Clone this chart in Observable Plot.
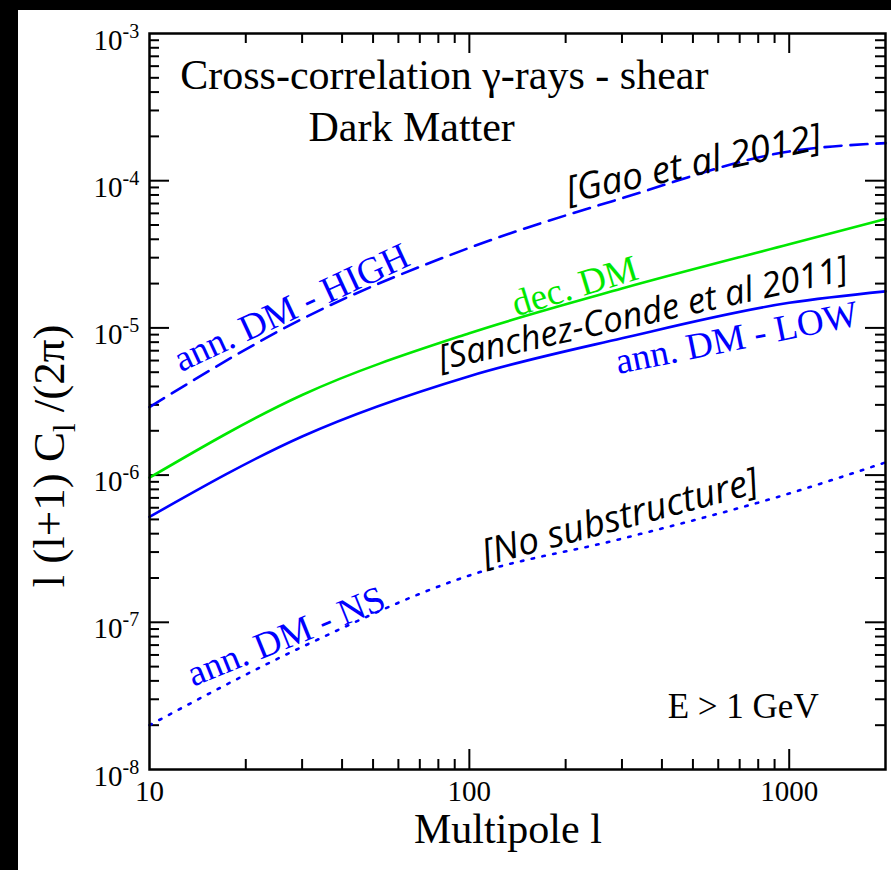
<!DOCTYPE html>
<html><head><meta charset="utf-8">
<script src="https://cdn.jsdelivr.net/npm/d3@7"></script>
<script src="https://cdn.jsdelivr.net/npm/@observablehq/plot@0.6"></script>
<style>
html,body{margin:0;padding:0;background:#000;}
#wrap{position:relative;width:891px;height:870px;overflow:hidden;background:#000;}
#paper{position:absolute;left:18px;top:10px;right:0;bottom:0;background:#fff;}
#chart{position:absolute;left:0;top:0;}
</style></head><body>
<div id="wrap"><div id="paper"></div><div id="chart"></div></div>
<script>
// ---- data ----
const multipole = [10, 30, 100, 300, 1000, 2000];
const annHigh   = [2.9e-6, 1.15e-5, 3.5e-5, 7.6e-5, 1.58e-4, 1.8e-4];   // dashed  [Gao et al 2012]
const decDM     = [9.6e-7, 3.5e-6, 9.2e-6, 1.85e-5, 3.7e-5, 5.5e-5];    // green
const annLow    = [5.2e-7, 1.83e-6, 4.7e-6, 8.5e-6, 1.48e-5, 1.77e-5];  // solid blue
const annNS     = [2.0e-8, 6.8e-8, 2.08e-7, 3.7e-7, 7.5e-7, 1.22e-6];   // dotted
const xMajor = [10, 100, 1000];
const xMinor = [20,30,40,50,60,70,80,90,200,300,400,500,600,700,800,900];
const yExponents = [-3, -4, -5, -6, -7, -8];
const yMinorMantissa = [2,3,4,5,6,7,8,9];
const yMinorDecades = [-8,-7,-6,-5,-4];
const titleLines = ["Cross-correlation \u03b3-rays - shear", "Dark Matter"];
const yLabel = "l (l+1) C_l /(2\u03c0)";
const xLabel = "Multipole l";
const energyNote = "E > 1 GeV";
const curveLabels = ["ann. DM - HIGH", "dec. DM", "ann. DM - LOW", "ann. DM - NS"];
const refLabels = ["[Gao et al 2012]", "[Sanchez-Conde et al 2011]", "[No substructure]"];

// ---- layout ----
const W = 891, H = 870, ML = 149, MT = 33, MR = 6, MB = 101;
const FW = W - ML - MR, FH = H - MT - MB;
const SERIF = "'Liberation Serif','Times New Roman',Times,serif";
const SANS = "'Open Sans','Noto Sans',sans-serif";
const BLUE = "#0000ff", GREEN = "#00e800";
const yMinor = yMinorDecades.flatMap(e => yMinorMantissa.map(m => m * Math.pow(10, e)));
const yMajor = yExponents.map(e => Math.pow(10, e));
const BIG = 20, SMALL = 10;

const annots = [
  {t: curveLabels[0], x: 28.8, y: 1.16e-5, r: -25, c: BLUE, f: SERIF, s: 37, i: "normal"},
  {t: curveLabels[1], x: 219, y: 1.61e-5, r: -17, c: GREEN, f: SERIF, s: 37, i: "normal"},
  {t: curveLabels[2], x: 697, y: 7.13e-6, r: -11.5, c: BLUE, f: SERIF, s: 37, i: "normal"},
  {t: curveLabels[3], x: 27.6, y: 6.75e-8, r: -22, c: BLUE, f: SERIF, s: 37, i: "normal"},
  {t: refLabels[0], x: 511, y: 1.08e-4, r: -12, c: "#000", f: SANS, s: 37, i: "italic"},
  {t: refLabels[1], x: 355, y: 1.05e-5, r: -12.5, c: "#000", f: SANS, s: 35, i: "italic"},
  {t: refLabels[2], x: 302, y: 4.3e-7, r: -15, c: "#000", f: SANS, s: 37, i: "italic"}
];

const tickMarks = [];
for (const [vals, len] of [[xMajor.slice(1), BIG], [xMinor, SMALL]]) {
  tickMarks.push(Plot.tickX(vals, {x: d => d, insetTop: FH - len, stroke: "#000", strokeWidth: 2}));
  tickMarks.push(Plot.tickX(vals, {x: d => d, insetBottom: FH - len, stroke: "#000", strokeWidth: 2}));
}
for (const [vals, len] of [[yMajor.slice(1, -1), BIG], [yMinor, SMALL]]) {
  tickMarks.push(Plot.tickY(vals, {y: d => d, insetRight: FW - len, stroke: "#000", strokeWidth: 2}));
  tickMarks.push(Plot.tickY(vals, {y: d => d, insetLeft: FW - len, stroke: "#000", strokeWidth: 2}));
}

const chart = Plot.plot({
  width: W, height: H,
  marginLeft: ML, marginTop: MT, marginRight: MR, marginBottom: MB,
  style: {background: "transparent", fontFamily: SERIF, overflow: "visible"},
  x: {type: "log", domain: [10, 2000], axis: null},
  y: {type: "log", domain: [1e-8, 1e-3], axis: null},
  marks: [
    ...tickMarks,
    Plot.line(multipole, {x: multipole, y: annHigh, stroke: BLUE, strokeWidth: 2.6, strokeDasharray: "17,9", curve: "monotone-x"}),
    Plot.line(multipole, {x: multipole, y: decDM, stroke: GREEN, strokeWidth: 2.6, curve: "monotone-x"}),
    Plot.line(multipole, {x: multipole, y: annLow, stroke: BLUE, strokeWidth: 2.6, curve: "monotone-x"}),
    Plot.line(multipole, {x: multipole, y: annNS, stroke: BLUE, strokeWidth: 2.6, strokeDasharray: "2.5,8.5", curve: "monotone-x"}),
    Plot.frame({stroke: "#000", strokeWidth: 2.5}),
    // x tick labels
    Plot.text(xMajor, {x: d => d, frameAnchor: "bottom", dy: 31, lineAnchor: "bottom", text: d => String(d), fontSize: 29, fill: "#000"}),
    // y tick labels: 10 with superscript exponent
    Plot.text(yMajor, {y: d => d, frameAnchor: "left", dx: -27, dy: 16, lineAnchor: "bottom", textAnchor: "end", text: () => "10", fontSize: 29, fill: "#000"}),
    Plot.text(yExponents, {y: d => Math.pow(10, d), frameAnchor: "left", dx: -27, dy: 4, lineAnchor: "bottom", textAnchor: "start", text: d => String(d), fontSize: 20, fill: "#000"}),
    // axis titles
    Plot.text([xLabel], {x: 132, frameAnchor: "bottom", dy: 73, lineAnchor: "bottom", text: d => d, fontSize: 42, fill: "#000"}),
    Plot.text([yLabel], {x: 5.4, y: 1.35e-6, rotate: -90, lineAnchor: "bottom", text: d => d, fontSize: 45, fill: "#000"}),
    // title
    Plot.text([titleLines[0]], {x: 83.5, y: 4.23e-4, lineAnchor: "bottom", text: d => d, fontSize: 42, fill: "#000"}),
    Plot.text([titleLines[1]], {x: 66, y: 1.87e-4, lineAnchor: "bottom", text: d => d, fontSize: 42, fill: "#000"}),
    Plot.text([energyNote], {x: 718, y: 2.25e-8, lineAnchor: "bottom", text: d => d, fontSize: 35, fill: "#000"}),
    // curve and reference labels
    ...annots.map(a => Plot.text([a], {x: d => d.x, y: d => d.y, text: d => d.t, rotate: a.r, fill: a.c, fontFamily: a.f, fontSize: a.s, fontStyle: a.i, lineAnchor: "bottom"}))
  ]
});
document.getElementById("chart").appendChild(chart);

// subscript l after C in the y label
d3.select(chart).selectAll("text").filter(function () { return this.textContent === yLabel; }).each(function () {
  const t = d3.select(this);
  t.text(null);
  t.append("tspan").text("l (l+1) C");
  t.append("tspan").attr("dy", 11).attr("font-size", 31).text("l");
  t.append("tspan").attr("dy", -11).text(" /(2\u03c0)");
});
</script>
</body></html>
